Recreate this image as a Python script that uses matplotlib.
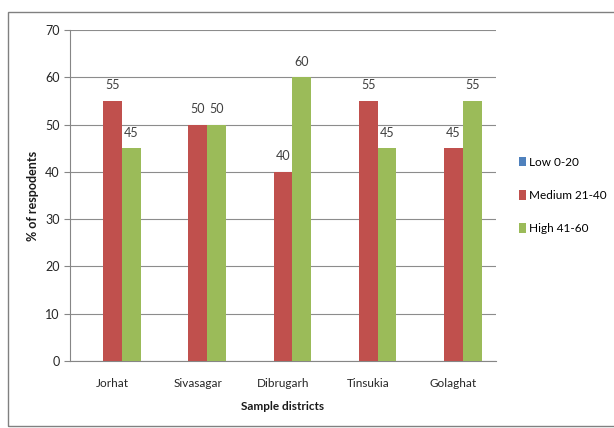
import matplotlib
matplotlib.use("Agg")
import matplotlib.pyplot as plt
import numpy as np
from matplotlib.patches import Rectangle

categories = ["Jorhat", "Sivasagar", "Dibrugarh", "Tinsukia", "Golaghat"]
series_names = ["Low 0-20", "Medium 21-40", "High 41-60"]
low = [0, 0, 0, 0, 0]
medium = [55, 50, 40, 55, 45]
high = [45, 50, 60, 45, 55]
yticks = [0, 10, 20, 30, 40, 50, 60, 70]

colors = ["#4F81BD", "#C0504D", "#9BBB59"]

plt.rcParams['font.family'] = ['Lato', 'DejaVu Sans']

fig = plt.figure(figsize=(6.14, 4.28), dpi=100)
ax = fig.add_axes([70/614, 1-361/428, (496-70)/614, (361-30)/428])

x = np.arange(len(categories))
w = 0.22
all_series = [low, medium, high]
for i, (vals, name, c) in enumerate(zip(all_series, series_names, colors)):
    bars = ax.bar(x + (i-1)*w, vals, width=w, color=c, label=name, zorder=3)
    if i > 0:
        for b, v in zip(bars, vals):
            ax.text(b.get_x()+b.get_width()/2, v + 2, f"{v}", ha="center", va="bottom",
                    fontsize=9, color="#404040")

ax.set_xlim(-0.5, len(categories)-0.5)
ax.set_ylim(0, 70)
ax.set_yticks(yticks)
ax.set_xticks(x)
ax.set_xticklabels(categories)
ax.tick_params(axis='y', length=4, color='#868686', labelsize=9, labelcolor='#262626', width=0.8)
ax.tick_params(axis='x', length=0, labelsize=8.5, labelcolor='#262626', pad=12)
ax.yaxis.grid(True, color='#8c8c8c', linewidth=0.8, zorder=0)
ax.set_axisbelow(True)
for s in ['top', 'right']:
    ax.spines[s].set_visible(False)
for s in ['left', 'bottom']:
    ax.spines[s].set_color('#868686')
    ax.spines[s].set_linewidth(0.8)

ax.set_xlabel("Sample districts", fontsize=8.5, fontweight='bold', labelpad=9, color='#1a1a1a')
ax.set_ylabel("% of respodents", fontsize=9, fontweight='bold', labelpad=4, color='#1a1a1a')

leg = ax.legend(loc='center left', bbox_to_anchor=(1.03, 0.50), frameon=False,
                fontsize=8.5, handlelength=0.6, handleheight=0.9, handletextpad=0.2,
                labelspacing=1.9)

fig.patches.append(Rectangle((8/614, 2/428), 1.0, 1-14/428, transform=fig.transFigure,
                             fill=False, edgecolor='#808080', linewidth=1.0))

fig.savefig("out.png", dpi=100)
